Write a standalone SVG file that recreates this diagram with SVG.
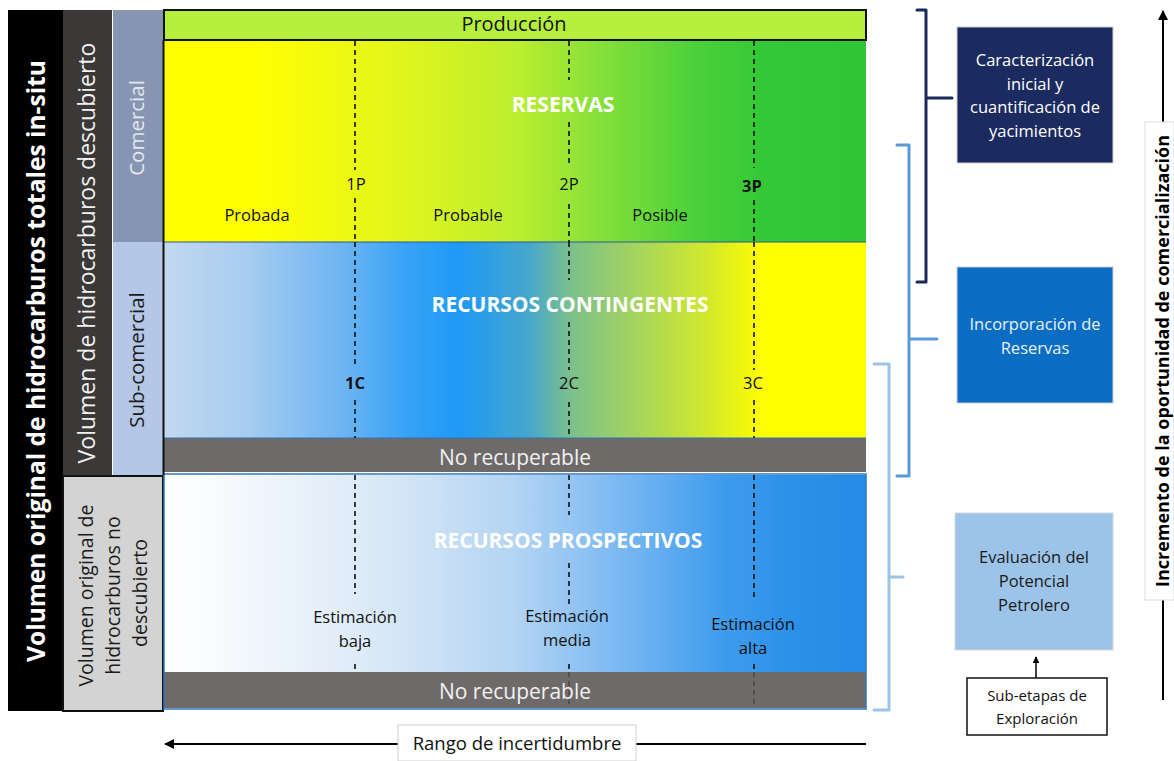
<svg xmlns="http://www.w3.org/2000/svg" width="1174" height="761" viewBox="0 0 1174 761">
<defs>
<style>
.t{font-family:"Open Sans","Liberation Sans",sans-serif;}
.b{font-weight:bold;}
.dash{stroke:#111;stroke-width:1.6;stroke-dasharray:5 4;fill:none;}
.lbl{font-size:16.5px;fill:#111;text-anchor:middle;}
.head{font-size:21px;font-weight:bold;fill:#fff;text-anchor:middle;}
.nr{font-size:21px;fill:#f2f2f2;text-anchor:middle;}
.box{font-size:16.5px;text-anchor:middle;}
</style>
<linearGradient id="gRes" x1="164" y1="0" x2="866" y2="0" gradientUnits="userSpaceOnUse">
<stop offset="0" stop-color="#ffff00"/>
<stop offset="0.12" stop-color="#ffff00"/>
<stop offset="0.30" stop-color="#e8f718"/>
<stop offset="0.50" stop-color="#bdee2e"/>
<stop offset="0.62" stop-color="#86e03a"/>
<stop offset="0.75" stop-color="#4ed13a"/>
<stop offset="0.85" stop-color="#35c937"/>
<stop offset="1" stop-color="#2fc535"/>
</linearGradient>
<linearGradient id="gCon" x1="164" y1="0" x2="866" y2="0" gradientUnits="userSpaceOnUse">
<stop offset="0" stop-color="#c2d8ee"/>
<stop offset="0.12" stop-color="#a6ccf0"/>
<stop offset="0.25" stop-color="#6fb5f2"/>
<stop offset="0.35" stop-color="#35a2f6"/>
<stop offset="0.42" stop-color="#1e99f5"/>
<stop offset="0.52" stop-color="#46a7cc"/>
<stop offset="0.58" stop-color="#7cc08a"/>
<stop offset="0.68" stop-color="#a8d65a"/>
<stop offset="0.78" stop-color="#d6ea2a"/>
<stop offset="0.845" stop-color="#fbfb06"/>
<stop offset="0.86" stop-color="#ffff00"/>
<stop offset="1" stop-color="#ffff00"/>
</linearGradient>
<linearGradient id="gPro" x1="164" y1="0" x2="866" y2="0" gradientUnits="userSpaceOnUse">
<stop offset="0" stop-color="#ffffff"/>
<stop offset="0.06" stop-color="#fafcfe"/>
<stop offset="0.30" stop-color="#dbe9f7"/>
<stop offset="0.50" stop-color="#b3d4f3"/>
<stop offset="0.65" stop-color="#7ab8f2"/>
<stop offset="0.80" stop-color="#3d9bed"/>
<stop offset="0.90" stop-color="#2b90e8"/>
<stop offset="1" stop-color="#268be6"/>
</linearGradient>
<marker id="arr" viewBox="0 0 10 10" refX="9" refY="5" markerWidth="7" markerHeight="7" orient="auto-start-reverse" markerUnits="userSpaceOnUse">
<path d="M0,0 L10,5 L0,10 z" fill="#000"/>
</marker>
<marker id="arrL" viewBox="0 0 10 10" refX="9" refY="5" markerWidth="12" markerHeight="10" orient="auto" markerUnits="userSpaceOnUse">
<path d="M0,0 L10,5 L0,10 z" fill="#000"/>
</marker>
</defs>
<rect width="1174" height="761" fill="#fff"/>

<!-- left columns -->
<g id="col-total">
<rect x="8" y="10" width="55" height="701" fill="#000"/>
<text class="t b" transform="translate(36,361) rotate(-90)" y="8.5" font-size="24.5" fill="#fff" text-anchor="middle">Volumen original de hidrocarburos totales in-situ</text>
</g>
<g id="col-descubierto">
<rect x="63" y="10" width="49" height="465" fill="#3b3837"/>
<text class="t" transform="translate(87,253) rotate(-90)" y="8" font-size="23" fill="#f2f2f2" text-anchor="middle">Volumen de hidrocarburos descubierto</text>
</g>
<g id="col-comercial">
<rect x="113" y="10" width="50" height="232" fill="#8696b2"/>
<text class="t" transform="translate(137,128) rotate(-90)" y="7" font-size="20.5" fill="#e4e8ee" text-anchor="middle">Comercial</text>
</g>
<g id="col-subcomercial">
<rect x="113" y="242" width="50" height="233" fill="#b4c7e6"/>
<text class="t" transform="translate(137,360) rotate(-90)" y="7" font-size="20.5" fill="#1a1a1a" text-anchor="middle">Sub-comercial</text>
</g>
<g id="col-nodescubierto">
<rect x="63" y="476" width="100" height="235" fill="#d3d3d3" stroke="#111" stroke-width="2"/>
<text class="t" transform="translate(113,593) rotate(-90)" font-size="19.5" fill="#1a1a1a" text-anchor="middle">
<tspan x="0" y="-20">Volumen original de</tspan>
<tspan x="0" y="7">hidrocarburos no</tspan>
<tspan x="0" y="34">descubierto</tspan>
</text>
</g>

<!-- main area -->
<g id="produccion">
<rect x="164" y="10" width="702" height="30" fill="#b6ef3b" stroke="#111" stroke-width="2"/>
<text class="t" x="514" y="31" font-size="20" fill="#111" text-anchor="middle">Producción</text>
</g>
<g id="reservas">
<rect x="164" y="41" width="702" height="201" fill="url(#gRes)"/>
<text class="t head" x="563" y="111.5">RESERVAS</text>
<text class="t lbl" x="257" y="221">Probada</text>
<text class="t lbl" x="468" y="221">Probable</text>
<text class="t lbl" x="660" y="221">Posible</text>
<text class="t lbl" x="356" y="190">1P</text>
<text class="t lbl" x="569" y="190">2P</text>
<text class="t lbl b" x="752" y="192">3P</text>
</g>
<g id="contingentes">
<rect x="164" y="242" width="702" height="196" fill="url(#gCon)"/>
<line x1="164" y1="242" x2="866" y2="242" stroke="#2f5597" stroke-width="1"/>
<text class="t head" x="570" y="311.5">RECURSOS CONTINGENTES</text>
<text class="t lbl b" x="355" y="389">1C</text>
<text class="t lbl" x="569" y="389">2C</text>
<text class="t lbl" x="753" y="389">3C</text>
</g>
<g id="norecuperable-1">
<rect x="164" y="438" width="702" height="34" fill="#6e6a6a"/>
<line x1="164" y1="438" x2="866" y2="438" stroke="#2f75b6" stroke-width="1"/>
<text class="t nr" x="515" y="465">No recuperable</text>
</g>
<g id="prospectivos">
<rect x="164" y="475" width="702" height="197" fill="url(#gPro)"/>
<text class="t head" x="568" y="547.5" fill="#fff">RECURSOS PROSPECTIVOS</text>
<text class="t lbl" x="355"><tspan x="355" y="623">Estimación</tspan><tspan x="355" y="647">baja</tspan></text>
<text class="t lbl" x="567"><tspan x="567" y="622">Estimación</tspan><tspan x="567" y="646">media</tspan></text>
<text class="t lbl" x="753"><tspan x="753" y="630">Estimación</tspan><tspan x="753" y="654">alta</tspan></text>
</g>
<g id="norecuperable-2">
<rect x="164" y="672" width="702" height="36" fill="#6e6a6a"/>
<rect x="164" y="474" width="702" height="235" fill="none" stroke="#2f78c0" stroke-width="1.5"/>
<text class="t nr" x="515" y="699">No recuperable</text>
</g>
<line x1="163.5" y1="40" x2="163.5" y2="475" stroke="#111" stroke-width="2"/>

<!-- dashed dividers, brackets, arrows -->
<g id="connectors">
<g class="dash">
<path d="M355,41 V170 M355,198 V242 M355,242 V366 M355,400 V438 M355,475 V594 M355,664 V672"/>
<path d="M569,41 V80 M569,122 V167 M569,204 V242 M569,242 V280 M569,322 V370 M569,402 V438 M569,475 V515 M569,563 V606 M569,664 V672"/>
<path d="M754,41 V168 M754,200 V242 M754,242 V370 M754,400 V438 M754,475 V601 M754,664 V672"/>
</g>
<g class="dash" stroke-opacity="0.35">
<path d="M569,672 V706 M754,672 V708"/>
</g>

<path d="M917,10 H926 V282 H917 M926,98 H952" fill="none" stroke="#1a2a5e" stroke-width="3" stroke-linejoin="round" stroke-linecap="round"/>
<path d="M897,145 H909 V476 H897 M909,339 H937" fill="none" stroke="#5b9bd5" stroke-width="3" stroke-linejoin="round" stroke-linecap="round"/>
<path d="M874,364 H889 V710 H874 M889,577 H903" fill="none" stroke="#9dc3e6" stroke-width="3" stroke-linejoin="round" stroke-linecap="round"/>

<line x1="866" y1="744" x2="165" y2="744" stroke="#000" stroke-width="2" marker-end="url(#arrL)"/>
<line x1="1036" y1="678" x2="1036" y2="657" stroke="#000" stroke-width="1.5" marker-end="url(#arr)"/>
<line x1="1163" y1="700" x2="1163" y2="11" stroke="#000" stroke-width="2" marker-end="url(#arrL)"/>
</g>

<g id="rango">
<rect x="398" y="725" width="238" height="36" fill="#fff" stroke="#d0d0d0" stroke-width="1"/>
<text class="t" x="517" y="750" font-size="18.5" fill="#111" text-anchor="middle">Rango de incertidumbre</text>
</g>

<g id="incremento">
<rect x="1145" y="122" width="29" height="478" fill="#fff" stroke="#dddddd" stroke-width="1"/>
<text class="t b" transform="translate(1162,361) rotate(-90)" y="6.5" font-size="18" fill="#000" text-anchor="middle">Incremento de la oportunidad de comercialización</text>
</g>

<g id="caracterizacion">
<rect x="957" y="27" width="156" height="136" fill="#1c2b5f" stroke="#cfcfcf" stroke-width="1"/>
<text class="t box" fill="#fff"><tspan x="1035" y="66">Caracterización</tspan><tspan x="1035" y="90">inicial y</tspan><tspan x="1035" y="113">cuantificación de</tspan><tspan x="1035" y="137">yacimientos</tspan></text>
</g>
<g id="incorporacion">
<rect x="957" y="267" width="156" height="136" fill="#0a6dc2" stroke="#cfcfcf" stroke-width="1"/>
<text class="t box" fill="#e8f0fb"><tspan x="1035" y="330">Incorporación de</tspan><tspan x="1035" y="354">Reservas</tspan></text>
</g>
<g id="evaluacion">
<rect x="955" y="513" width="158" height="137" fill="#9cc3e8" stroke="#d8d8d8" stroke-width="1"/>
<text class="t box" fill="#1a1a1a"><tspan x="1034" y="563">Evaluación del</tspan><tspan x="1034" y="587">Potencial</tspan><tspan x="1034" y="611">Petrolero</tspan></text>
</g>
<g id="subetapas">
<rect x="967" y="678" width="140" height="57" fill="#fff" stroke="#111" stroke-width="1.5"/>
<text class="t" font-size="15" fill="#111" text-anchor="middle"><tspan x="1037" y="701">Sub-etapas de</tspan><tspan x="1037" y="724">Exploración</tspan></text>
</g>
</svg>
